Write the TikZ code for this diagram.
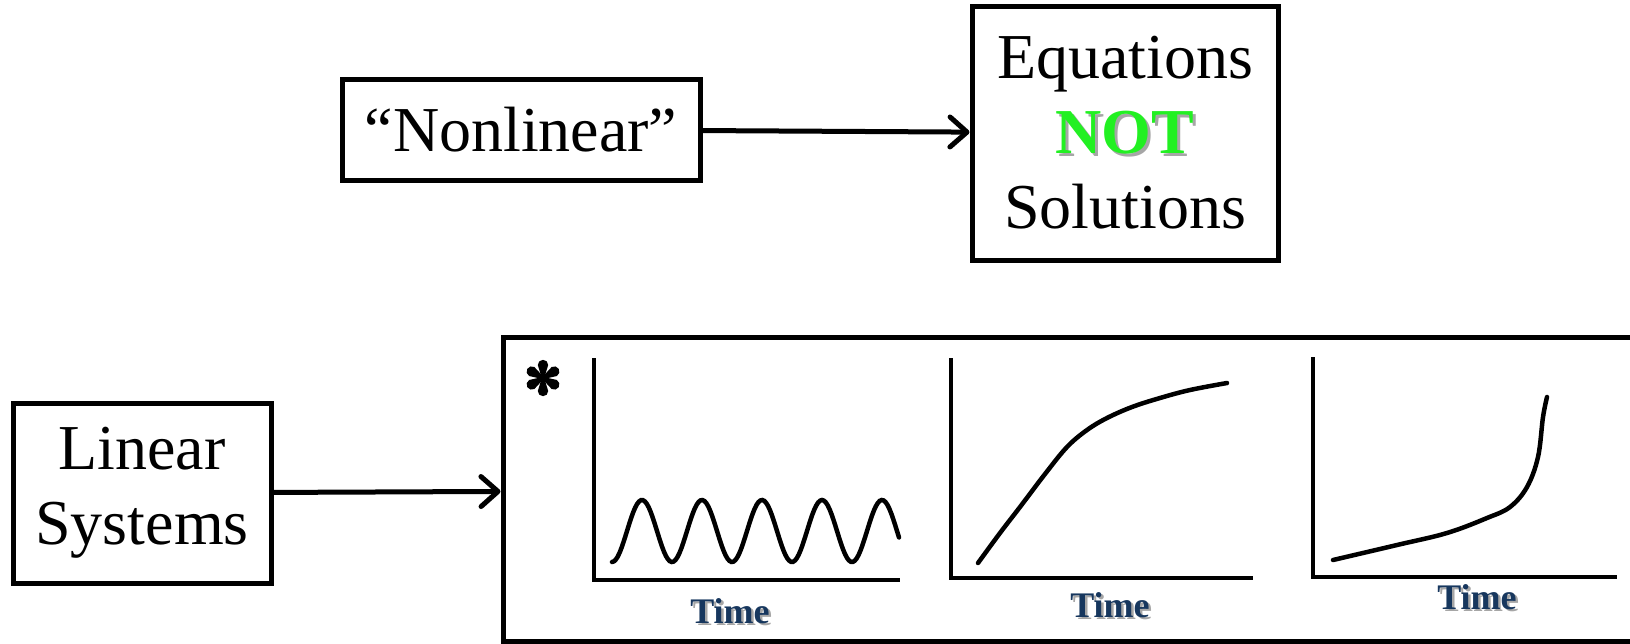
\documentclass[tikz,border=0pt]{standalone}
\usepackage{fontspec}
\setmainfont{Liberation Serif}
\usepackage{tikz}
\usetikzlibrary{arrows.meta}
\definecolor{verde}{HTML}{22F022}
\definecolor{blunotte}{HTML}{17375E}
\newcommand{\conombra}[2]{\rlap{\kern2.5pt\raisebox{-2.5pt}{\textcolor{black!35}{#2}}}\textcolor{#1}{#2}}
\tikzset{
  riquadro/.style={draw, line width=5pt, inner sep=0pt, align=center, font=\fontsize{64}{75}\selectfont},
  freccia/.style={line width=5pt, -{Straight Barb[length=17pt, width=30pt, round]}},
  assi/.style={line width=4.5pt},
  curva/.style={line width=4.5pt, line cap=round},
  tempo/.style={font=\bfseries\fontsize{36}{40}\selectfont}
}

\begin{document}
\begin{tikzpicture}[x=1pt, y=-1pt]
        \useasboundingbox (0,0) rectangle (1630,643);
        % Riquadri
        \node[riquadro, minimum width=358pt, minimum height=101pt] (nonlin) at (521,129.5) {“Nonlinear”};
        \node[riquadro, minimum width=306pt, minimum height=254pt] (eqns) at (1125,133) {Equations\\ \textbf{\conombra{verde}{NOT}}\\ Solutions};
        \node[riquadro, minimum width=258pt, minimum height=180pt] (linsys) at (142,493) {Linear\\ Systems};
        \node[riquadro, minimum width=1157pt, minimum height=304pt] (behav) at (1081.5,489) {};
        % Frecce
        \draw[freccia] (nonlin) -- (eqns);
        \draw[freccia] (linsys) -- (behav);
        % Asterisco a petali
        \foreach \a in {30,90,...,330}
          \fill[shift={(543,378)}, rotate=\a] (0,-1.2) -- (13,-5.2) arc (-90:90:5.2) -- (0,1.2) -- cycle;
        % Assi ed etichette
        \foreach \xa/\ya/\xb/\yb in {594/358/900/580, 951/358/1253/578, 1313/357/1617/577}
          \draw[assi] (\xa,\ya) |- (\xb,\yb);
        \foreach \n/\xt/\yt in {1/730/612, 2/1110/606, 3/1477/598}
          \node[tempo] (tempo\n) at (\xt,\yt) {\conombra{blunotte}{Time}};
        % Oscillazione
        \draw[curva] plot[domain=612:899, samples=150] (\x, {531+31*cos(6*(\x-612))});
        % Saturazione
        \draw[curva] plot[smooth, tension=0.6] coordinates {(978,563) (1000,533) (1020,507) (1045,474) (1067,447) (1087,430) (1107,418) (1132,407) (1160,398) (1190,390) (1227,383)};
        % Crescita esplosiva
        \draw[curva] plot[smooth, tension=0.6] coordinates {(1333,560) (1397,545) (1447,533) (1487,518) (1510,507) (1527,487) (1538,457) (1543,417) (1547,397)};
    \end{tikzpicture}
\end{document}
